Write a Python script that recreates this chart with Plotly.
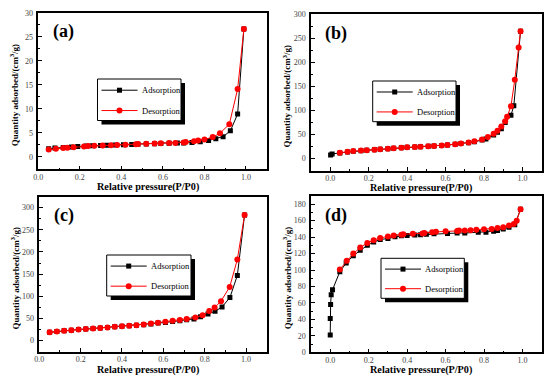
import plotly.graph_objects as go

W, H = 550, 385

# ---------------- data ----------------
a_ads_x = [0.05, 0.08, 0.12, 0.16, 0.19, 0.23, 0.26, 0.30, 0.33, 0.37, 0.41, 0.45, 0.48, 0.52,
           0.56, 0.59, 0.63, 0.67, 0.70, 0.74, 0.78, 0.82, 0.855, 0.89, 0.925, 0.96, 0.99]
a_ads_y = [1.7, 1.85, 1.95, 2.05, 2.15, 2.25, 2.3, 2.35, 2.4, 2.45, 2.5, 2.55, 2.6, 2.65,
           2.7, 2.75, 2.8, 2.85, 2.9, 3.0, 3.15, 3.4, 3.75, 4.2, 5.4, 8.9, 26.6]
a_des_x = [0.05, 0.085, 0.12, 0.14, 0.17, 0.22, 0.24, 0.27, 0.31, 0.35, 0.38, 0.42, 0.47, 0.48,
           0.52, 0.56, 0.59, 0.63, 0.66, 0.70, 0.71, 0.75, 0.77, 0.80, 0.84, 0.875, 0.92, 0.96, 0.99]
a_des_y = [1.5, 1.7, 1.85, 1.9, 2.0, 2.15, 2.25, 2.3, 2.35, 2.4, 2.45, 2.5, 2.6, 2.65,
           2.7, 2.75, 2.8, 2.85, 2.9, 3.0, 3.1, 3.25, 3.4, 3.6, 4.1, 4.9, 6.8, 14.1, 26.6]

b_ads_x = [0.002, 0.01, 0.05, 0.09, 0.12, 0.16, 0.19, 0.23, 0.26, 0.30, 0.33, 0.37, 0.40, 0.44,
           0.47, 0.51, 0.54, 0.58, 0.61, 0.65, 0.68, 0.72, 0.75, 0.79, 0.81, 0.85, 0.87, 0.89,
           0.91, 0.94, 0.955, 0.99]
b_ads_y = [7.6, 9.7, 12.0, 14.0, 15.5, 16.5, 17.5, 18.5, 19.5, 20.5, 21.5, 22.5, 23.5, 24.5,
           25.0, 26.0, 26.5, 27.5, 28.5, 30.0, 31.5, 33.0, 35.0, 39.0, 41.0, 49.0, 55.0, 62.0,
           75.0, 90.0, 110.0, 265.0]
b_des_x = [0.05, 0.09, 0.12, 0.16, 0.19, 0.23, 0.26, 0.30, 0.33, 0.37, 0.40, 0.44, 0.47, 0.51,
           0.54, 0.58, 0.61, 0.65, 0.68, 0.72, 0.75, 0.79, 0.82, 0.85, 0.87, 0.89, 0.91, 0.92,
           0.94, 0.96, 0.98, 0.99]
b_des_y = [12.5, 14.5, 16.0, 17.0, 17.5, 18.5, 19.5, 20.5, 21.5, 22.5, 23.5, 24.5, 25.0, 26.0,
           26.5, 27.5, 28.5, 30.0, 31.5, 33.5, 36.0, 40.0, 45.0, 52.0, 58.0, 67.0, 78.0, 87.0,
           109.0, 164.0, 231.0, 265.0]

c_ads_x = [0.05, 0.085, 0.12, 0.155, 0.19, 0.225, 0.26, 0.295, 0.33, 0.365, 0.40, 0.435, 0.47,
           0.505, 0.54, 0.575, 0.61, 0.645, 0.68, 0.713, 0.748, 0.78, 0.816, 0.85, 0.884, 0.922,
           0.958, 0.993]
c_ads_y = [18.7, 20.5, 22.0, 23.5, 25.0, 26.0, 27.3, 28.5, 29.7, 31.0, 32.2, 33.5, 34.8,
           36.0, 37.5, 39.5, 41.0, 43.0, 45.0, 47.0, 49.0, 54.0, 60.0, 66.0, 76.0, 97.0,
           147.0, 283.5]
c_des_x = [0.05, 0.085, 0.12, 0.155, 0.19, 0.225, 0.26, 0.295, 0.33, 0.365, 0.40, 0.435, 0.47,
           0.505, 0.54, 0.574, 0.61, 0.645, 0.68, 0.713, 0.755, 0.79, 0.822, 0.848, 0.879, 0.921,
           0.958, 0.993]
c_des_y = [18.7, 20.5, 22.0, 23.5, 25.0, 26.0, 27.3, 28.5, 29.7, 31.0, 32.2, 33.5, 34.8,
           36.5, 38.8, 40.4, 42.6, 44.9, 46.5, 48.7, 52.0, 57.0, 67.0, 74.6, 89.0, 121.0,
           183.0, 283.5]

d_ads_x = [0.0, 0.0, 0.002, 0.005, 0.012, 0.05, 0.083, 0.12, 0.156, 0.193, 0.226, 0.26, 0.30,
           0.337, 0.37, 0.40, 0.44, 0.47, 0.50, 0.54, 0.61, 0.66, 0.70, 0.77, 0.81, 0.85,
           0.87, 0.90, 0.93, 0.96, 0.99]
d_ads_y = [21.0, 41.0, 58.0, 70.0, 76.0, 98.0, 108.5, 117.5, 124.0, 130.0, 134.0, 137.0, 138.4,
           140.4, 141.6, 142.0, 142.5, 143.0, 143.5, 144.0, 144.5, 145.0, 145.0, 146.0, 146.0,
           147.0, 148.0, 150.0, 152.0, 155.0, 174.0]
d_des_x = [0.05, 0.086, 0.12, 0.156, 0.193, 0.226, 0.26, 0.30, 0.33, 0.37, 0.38, 0.43, 0.48,
           0.49, 0.53, 0.55, 0.60, 0.66, 0.67, 0.70, 0.73, 0.76, 0.80, 0.84, 0.87, 0.90, 0.93,
           0.955, 0.97, 0.99]
d_des_y = [100.8, 111.4, 120.0, 127.3, 133.0, 136.3, 139.0, 140.8, 142.0, 143.0, 143.5, 144.0,
           144.5, 145.0, 146.0, 146.5, 147.0, 147.5, 148.0, 148.0, 148.5, 149.0, 149.5, 150.0,
           151.0, 152.0, 154.0, 156.0, 160.0, 174.0]

panel_labels = ["(a)", "(b)", "(c)", "(d)"]
series_names = ["Adsorption", "Desorption"]
x_title = "Relative pressure(P/P0)"
y_title = "Quantity adsorbed/(cm<sup>3</sup>/g)"

panels = [
    dict(ads=(a_ads_x, a_ads_y), des=(a_des_x, a_des_y),
         box=(38.3, 12.7, 266.7, 169.3), xr=[0, 1.1], yr=[-2.6, 30], dy=5,
         leg=(97.5, 79.0, 181.0, 120.5), tgap=18),
    dict(ads=(b_ads_x, b_ads_y), des=(b_des_x, b_des_y),
         box=(311.0, 14.3, 541.7, 170.7), xr=[-0.1, 1.1], yr=[-25, 300], dy=50,
         leg=(372.7, 81.0, 456.0, 121.7), tgap=17),
    dict(ads=(c_ads_x, c_ads_y), des=(c_des_x, c_des_y),
         box=(39.3, 196.5, 266.7, 351.7), xr=[0, 1.1], yr=[-25, 325], dy=50,
         leg=(106.7, 255.0, 191.0, 296.0), tgap=18),
    dict(ads=(d_ads_x, d_ads_y), des=(d_des_x, d_des_y),
         box=(311.0, 196.0, 541.7, 352.3), xr=[-0.1, 1.1], yr=[0, 190], dy=20,
         leg=(381.0, 258.3, 464.3, 298.3), tgap=18),
]

SERIF = "Liberation Serif"
fig = go.Figure()
shapes = []
annotations = []


def px(x):
    return x / W


def py(y):
    return 1 - y / H


def note(text, x, y, size, xanchor="center", angle=0):
    annotations.append(dict(text=text, x=px(x), y=py(y), xref="paper", yref="paper",
                            xanchor=xanchor, yanchor="middle", showarrow=False,
                            textangle=angle,
                            font=dict(family=SERIF, size=size, color="black")))


for i, p in enumerate(panels):
    n = "" if i == 0 else str(i + 1)
    xa, ya = "x" + n, "y" + n
    x0, y0, x1, y1 = p["box"]
    fig.add_trace(go.Scatter(
        x=p["ads"][0], y=p["ads"][1], mode="lines+markers", name=series_names[0],
        line=dict(color="black", width=1),
        marker=dict(symbol="square", size=5, color="black"),
        xaxis=xa, yaxis=ya, showlegend=False))
    fig.add_trace(go.Scatter(
        x=p["des"][0], y=p["des"][1], mode="lines+markers", name=series_names[1],
        line=dict(color="red", width=1),
        marker=dict(symbol="circle", size=6, color="red"),
        xaxis=xa, yaxis=ya, showlegend=False))
    axis_common = dict(showline=True, linecolor="black", linewidth=1.5, mirror=True,
                       ticks="inside", ticklen=4, tickwidth=1, tickcolor="black",
                       showgrid=False, zeroline=False, automargin=False,
                       tickfont=dict(family=SERIF, size=8, color="#444"))
    fig.update_layout({
        "xaxis" + n: dict(axis_common, domain=[px(x0), px(x1)], range=p["xr"],
                          anchor=ya, dtick=0.2, tick0=0, tickformat=".1f",
                          ticklabelstandoff=-1,
                          minor=dict(ticks="inside", ticklen=2, dtick=0.1, tick0=0,
                                     tickcolor="black")),
        "yaxis" + n: dict(axis_common, domain=[py(y1), py(y0)], range=p["yr"],
                          anchor=xa, dtick=p["dy"], tick0=0, ticklabelstandoff=2,
                          minor=dict(ticks="inside", ticklen=2, dtick=p["dy"] / 2, tick0=0,
                                     tickcolor="black")),
    })
    # panel label
    note("<b>" + panel_labels[i] + "</b>", x0 + 25, y0 + 19, 18)
    # axis titles
    note("<b>" + x_title + "</b>", (x0 + x1) / 2 - 5, y1 + p["tgap"], 10.2)
    note("<b>" + y_title + "</b>", x0 - 24, (y0 + y1) / 2 + 4, 9, angle=-90)
    # legend with shadow
    lx0, ly0, lx1, ly1 = p["leg"]
    shapes.append(dict(type="rect", xref="paper", yref="paper",
                       x0=px(lx0 + 4), x1=px(lx1 + 4), y0=py(ly1 + 4), y1=py(ly0 + 4),
                       fillcolor="black", line=dict(width=0)))
    shapes.append(dict(type="rect", xref="paper", yref="paper",
                       x0=px(lx0), x1=px(lx1), y0=py(ly1), y1=py(ly0),
                       fillcolor="white", line=dict(color="black", width=1)))
    rows = [ly0 + (ly1 - ly0) * 0.27, ly0 + (ly1 - ly0) * 0.76]
    cols = [("black", "square"), ("red", "circle")]
    for r, (col, sym) in zip(rows, cols):
        shapes.append(dict(type="line", xref="paper", yref="paper",
                           x0=px(lx0 + 4), x1=px(lx0 + 40), y0=py(r), y1=py(r),
                           line=dict(color=col, width=1)))
        mx = lx0 + 22
        if sym == "square":
            shapes.append(dict(type="rect", xref="paper", yref="paper",
                               x0=px(mx - 2.5), x1=px(mx + 2.5), y0=py(r + 2.5), y1=py(r - 2.5),
                               fillcolor=col, line=dict(width=0)))
        else:
            shapes.append(dict(type="circle", xref="paper", yref="paper",
                               x0=px(mx - 3), x1=px(mx + 3), y0=py(r + 3), y1=py(r - 3),
                               fillcolor=col, line=dict(width=0)))
    for r, name in zip(rows, series_names):
        note(name, lx0 + 42, r, 8.5, xanchor="left")

fig.update_layout(width=W, height=H, margin=dict(l=0, r=0, t=0, b=0, pad=0),
                  plot_bgcolor="white", paper_bgcolor="white",
                  shapes=shapes, annotations=annotations, showlegend=False)
fig.write_html("out.html", config={"displayModeBar": False},
               post_script="document.body.style.margin='0';"
                           "document.documentElement.style.overflow='hidden';")
